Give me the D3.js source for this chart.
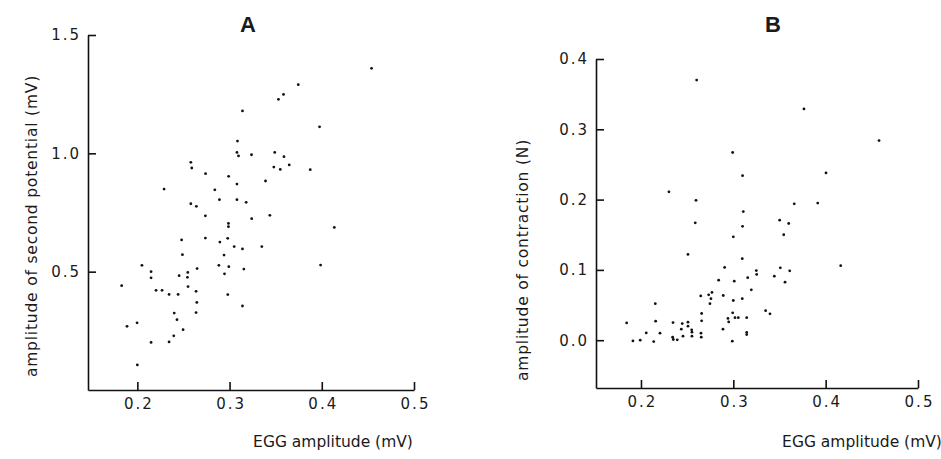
<!DOCTYPE html>
<html><head><meta charset="utf-8">
<script src="https://cdn.jsdelivr.net/npm/d3@7"></script>
<style>
html,body{margin:0;padding:0;background:#fff;}
svg text{font-family:"DejaVu Sans",sans-serif;fill:#1a1a1a;}
</style></head>
<body><svg id="c" width="941" height="459"></svg>
<script>
// ---- Data ----
const xTicks = [0.2, 0.3, 0.4, 0.5];
const yTicksA = [0.5, 1.0, 1.5];
const yTicksB = [0.0, 0.1, 0.2, 0.3, 0.4];

const eggA = [0.454,0.3745,0.3585,0.353,0.314,0.3976,0.3086,0.308,0.3097,0.3238,0.349,0.359,0.348,0.355,0.3647,0.3875,
  0.258,0.259,0.274,0.299,0.308,0.339,0.229,0.284,0.289,0.308,0.318,0.258,0.264,0.2738,0.2988,0.2988,0.324,0.3437,
  0.2738,0.2895,0.298,0.248,0.2489,0.305,0.314,0.335,0.294,0.205,0.2149,0.2149,0.2648,0.2547,0.2453,0.2543,0.2884,
  0.2992,0.2945,0.3155,0.183,0.2203,0.2268,0.255,0.2344,0.2442,0.2637,0.2645,0.2981,0.2637,0.240,0.243,0.314,
  0.1888,0.1997,0.2496,0.2395,0.2149,0.2344,0.200,0.4136,0.3987];
const secondPotential = [1.359,1.290,1.249,1.228,1.179,1.112,1.052,1.004,0.989,0.994,1.004,0.986,0.942,0.932,0.951,0.931,
  0.962,0.938,0.914,0.903,0.870,0.883,0.849,0.846,0.804,0.804,0.793,0.787,0.776,0.736,0.704,0.690,0.724,0.738,
  0.642,0.625,0.641,0.634,0.572,0.606,0.596,0.606,0.570,0.527,0.500,0.474,0.513,0.497,0.483,0.476,0.527,
  0.521,0.491,0.511,0.441,0.421,0.421,0.437,0.404,0.404,0.417,0.370,0.403,0.327,0.325,0.297,0.355,
  0.269,0.284,0.255,0.229,0.201,0.203,0.106,0.687,0.528];

const eggB = [0.2603,0.2993,0.310,0.2303,0.2596,0.3765,0.4578,0.4004,0.366,0.3914,0.3108,0.2588,0.310,0.300,0.2509,0.3097,
  0.2906,0.2841,0.301,0.3156,0.2647,0.2733,0.2769,0.2758,0.2747,0.2891,0.3097,0.300,0.2155,0.2657,0.2993,0.3145,
  0.3018,0.3054,0.2942,0.295,0.1845,0.2159,0.2347,0.2447,0.2509,0.2509,0.2437,0.2657,0.2888,0.2057,0.2206,0.2549,
  0.2552,0.2343,0.235,0.2393,0.2455,0.2552,0.265,0.2653,0.1913,0.1992,0.2138,0.2989,0.3145,0.3145,0.3502,0.360,
  0.3546,0.4163,0.3509,0.3611,0.3249,0.3253,0.3444,0.356,0.3195,0.335,0.3397];
const contraction = [0.370,0.267,0.234,0.211,0.199,0.329,0.284,0.238,0.194,0.195,0.183,0.167,0.162,0.147,0.122,0.116,
  0.1035,0.0854,0.084,0.089,0.063,0.0645,0.068,0.059,0.052,0.0636,0.059,0.0565,0.052,0.038,0.039,0.032,
  0.032,0.032,0.031,0.026,0.0246,0.027,0.025,0.0237,0.0256,0.020,0.0157,0.0275,0.0157,0.0104,0.010,0.0147,
  0.0114,0.0043,0.001,0.0005,0.0057,0.0057,0.010,0.0043,-0.001,0.0,-0.002,-0.0014,0.011,0.008,0.1708,0.166,
  0.150,0.106,0.103,0.0987,0.099,0.0935,0.091,0.0826,0.0716,0.042,0.0375];

const svg = d3.select("#c");
const fmt = d3.format(".1f");

function panel(cfg){
  const g = svg.append("g");
  const x = d3.scaleLinear().domain(cfg.xDomain).range(cfg.xRange);
  const y = d3.scaleLinear().domain(cfg.yDomain).range(cfg.yRange);

  const ax = g.append("g").attr("transform",`translate(0,${cfg.yRange[0]})`)
    .call(d3.axisBottom(x).tickValues(xTicks).tickFormat(fmt).tickSizeInner(-8).tickSizeOuter(0).tickPadding(8));
  const ay = g.append("g").attr("transform",`translate(${cfg.xRange[0]},0)`)
    .call(d3.axisLeft(y).tickValues(cfg.yTicks).tickFormat(fmt).tickSizeInner(-8).tickSizeOuter(0).tickPadding(7));
  [ax,ay].forEach(a=>{
    a.select(".domain").attr("stroke","#111").attr("stroke-width",1.6);
    a.selectAll(".tick line").attr("stroke","#111").attr("stroke-width",1.6);
    a.selectAll(".tick text").style("font-size","15px").style("letter-spacing","2px").attr("fill","#1a1a1a");
  });
  ax.selectAll(".tick text").attr("dx","1px");

  g.selectAll("circle").data(cfg.xs).join("circle")
    .attr("cx",(d,i)=>x(d)).attr("cy",(d,i)=>y(cfg.ys[i])).attr("r",1.4).attr("fill","#111");

  g.append("text").attr("x",cfg.titleX).attr("y",32).attr("text-anchor","middle")
    .style("font-family","Liberation Sans, Arial, sans-serif").style("font-weight","bold").style("font-size","22px")
    .text(cfg.title);
  g.append("text").attr("x",cfg.xLabelX).attr("y",447).attr("text-anchor","middle")
    .style("font-size","15.5px").text("EGG amplitude (mV)");
  g.append("text").attr("transform",`translate(${cfg.yLabelX},${cfg.yLabelY}) rotate(-90)`).attr("text-anchor","middle")
    .style("font-size","15.5px").style("letter-spacing","0.8px").text(cfg.yLabel);
}

panel({xDomain:[0.1465,0.5], xRange:[88,414], yDomain:[0,1.5], yRange:[390,35], yTicks:yTicksA,
  xs:eggA, ys:secondPotential, title:"A", titleX:248, xLabelX:333, yLabelX:37, yLabelY:226,
  yLabel:"amplitude of second potential (mV)"});
panel({xDomain:[0.1513,0.5], xRange:[596,918], yDomain:[-0.068,0.4], yRange:[388,59], yTicks:yTicksB,
  xs:eggB, ys:contraction, title:"B", titleX:773, xLabelX:862, yLabelX:528, yLabelY:260,
  yLabel:"amplitude of contraction (N)"});
</script></body></html>
